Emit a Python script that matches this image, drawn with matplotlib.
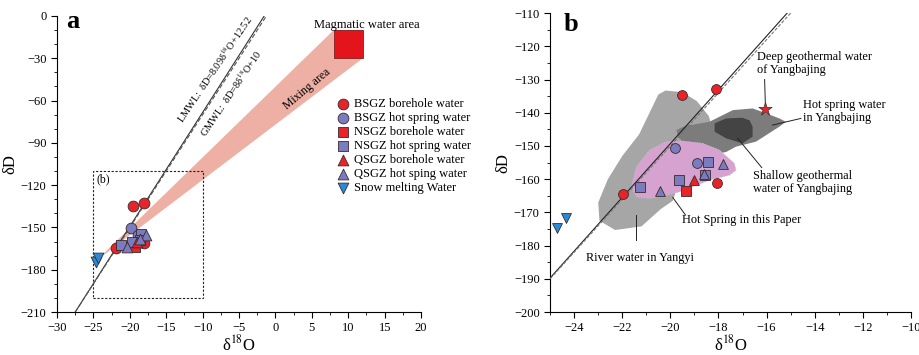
import matplotlib
matplotlib.use("Agg")
import matplotlib.pyplot as plt
from matplotlib.patches import Polygon, Rectangle
from matplotlib.ticker import MultipleLocator

plt.rcParams['font.family'] = ['Liberation Serif', 'DejaVu Serif']
plt.rcParams['mathtext.fontset'] = 'stix'

# sample values (delta18O, deltaD)
bsgz_bore_x = [-19.5, -18.1, -18.05, -21.95]
bsgz_bore_y = [-134.6, -132.8, -161.0, -164.6]
bsgz_hot_x = [-19.8, -18.9]
bsgz_hot_y = [-150.7, -155.2]
nsgz_bore_x = [-19.35]
nsgz_bore_y = [-163.6]
nsgz_hot_x = [-18.45, -18.55, -19.65, -21.25]
nsgz_hot_y = [-154.9, -158.8, -160.3, -162.3]
qsgz_bore_x = [-19.0]
qsgz_bore_y = [-160.2]
qsgz_hot_x = [-17.8, -18.6, -20.45]
qsgz_hot_y = [-155.4, -158.3, -163.6]
snow_x = [-24.7, -24.35]
snow_y = [-174.6, -171.6]
deep_ybj = (-16.05, -139.0)

# meteoric water lines
lmwl_slope, lmwl_icpt = 8.09, 12.52
gmwl_slope, gmwl_icpt = 8.0, 10.0

# magmatic water box and mixing band
magma_x = (8.0, 12.0)
magma_y = (-30.0, -10.0)
mix_apex = (-24.6, -173.5)

# field outlines in panel b
river_yangyi = [(-20.2, -133.3), (-19.5, -133.8), (-18.9, -136.5), (-18.4, -141), (-18.2, -146),
                (-18.5, -150), (-19.5, -158), (-19.9, -166.5), (-20.4, -169), (-21.2, -174.2),
                (-22.3, -175.3), (-22.95, -172.5), (-23.0, -167), (-22.6, -160), (-22.0, -153),
                (-21.3, -146.5), (-20.8, -139), (-20.5, -134.5)]
hot_ybj = [(-19.75, -145.2), (-19.4, -144.0), (-18.37, -142.7), (-17.4, -139.2), (-16.58, -138.7),
           (-16.0, -140.2), (-15.47, -141.7), (-15.2, -142.7), (-15.47, -144.2), (-16.44, -148.7),
           (-17.27, -150.2), (-17.68, -151.8), (-18.25, -152.7), (-19.2, -151.0), (-19.68, -147.2)]
shallow_ybj = [(-18.16, -143.2), (-17.68, -141.7), (-17.0, -141.5), (-16.7, -142.3), (-16.58, -144.2),
               (-16.58, -147.2), (-17.0, -149.2), (-17.68, -147.7), (-18.16, -145.7)]
hot_paper = [(-20.17, -148.7), (-19.48, -148.5), (-18.65, -149.2), (-17.96, -151.2), (-17.34, -155.2),
             (-17.27, -157.3), (-17.54, -158.8), (-18.37, -160.3), (-19.6, -163.8), (-20.17, -164.8),
             (-20.86, -165.8), (-21.41, -165.3), (-21.62, -162.3), (-21.41, -156.3), (-20.86, -151.2)]

RED = '#e8242a'
PUR = '#7b7bc0'
BLU = '#2a8ad8'
EDGE = '#3a2a2a'

groups = [
    (bsgz_bore_x, bsgz_bore_y, 'o', RED, 'BSGZ borehole water'),
    (bsgz_hot_x, bsgz_hot_y, 'o', PUR, 'BSGZ hot spring water'),
    (nsgz_bore_x, nsgz_bore_y, 's', RED, 'NSGZ borehole water'),
    (nsgz_hot_x, nsgz_hot_y, 's', PUR, 'NSGZ hot spring water'),
    (qsgz_bore_x, qsgz_bore_y, '^', RED, 'QSGZ borehole water'),
    (qsgz_hot_x, qsgz_hot_y, '^', PUR, 'QSGZ hot sping water'),
    (snow_x, snow_y, 'v', BLU, 'Snow melting Water'),
]


def style_axis(ax):
    ax.spines['top'].set_visible(False)
    ax.spines['right'].set_visible(False)
    ax.tick_params(which='both', direction='out', labelsize=9)
    ax.tick_params(which='major', length=4)
    ax.tick_params(which='minor', length=2.5)


fig = plt.figure(figsize=(9.2, 3.55), dpi=100)

# ---------- panel a ----------
ax = fig.add_axes([0.062, 0.121, 0.3957, 0.834])
ax.set_xlim(-30, 20)
ax.set_ylim(-210, 0)
style_axis(ax)
ax.xaxis.set_major_locator(MultipleLocator(5))
ax.xaxis.set_minor_locator(MultipleLocator(2.5))
ax.yaxis.set_major_locator(MultipleLocator(30))
ax.yaxis.set_minor_locator(MultipleLocator(10))

mix = Polygon([mix_apex, (magma_x[0], magma_y[1]), (magma_x[1], magma_y[1]), (magma_x[1], magma_y[0])],
              closed=True, facecolor='#eeb0a4', edgecolor='none', zorder=1)
ax.add_patch(mix)
ax.add_patch(Rectangle((magma_x[0], magma_y[0]), magma_x[1] - magma_x[0], magma_y[1] - magma_y[0],
                       facecolor='#e3141c', edgecolor='#802020', lw=0.6, zorder=2))

xs = [-30, 20]
ax.plot(xs, [lmwl_slope * v + lmwl_icpt for v in xs], color='#333333', lw=0.8, zorder=3)
ax.plot(xs, [gmwl_slope * v + gmwl_icpt for v in xs], color='#555555', lw=0.8, ls=(0, (4, 2)), zorder=3)

ax.add_patch(Rectangle((-25, -200), 15, 90, fill=False, ls=(0, (2, 1.5)), lw=0.8, edgecolor='#222222', zorder=2))
ax.text(-24.6, -116, '(b)', fontsize=8.5, va='center', ha='left')

for gx, gy, mk, col, lab in groups:
    ax.scatter(gx, gy, marker=mk, s=60, c=col, edgecolors=EDGE, linewidths=0.6, label=lab, zorder=5)

ax.text(-12.4, -77, 'LMWL:  δD=8.09δ$^{18}$O+12.52', fontsize=7.4, rotation=56,
        rotation_mode='anchor', ha='left', va='bottom')
ax.text(-10.8, -82, 'GMWL:  δD=8δ$^{18}$O+10', fontsize=7.4, rotation=56,
        rotation_mode='anchor', ha='left', va='top')
ax.text(4.3, -52, 'Mixing area', fontsize=8.5, rotation=40, ha='center', va='center')
ax.text(12.6, -6.5, 'Magmatic water area', fontsize=9, ha='center', va='center', clip_on=False)
ax.text(-28.8, -4, 'a', fontsize=19, fontweight='bold', ha='left', va='center')

ax.legend(loc='upper left', bbox_to_anchor=(0.755, 0.74), frameon=False, fontsize=9,
          handletextpad=0.35, labelspacing=0.16, borderaxespad=0, handlelength=1.0,
          markerscale=1.0)
ax.set_xlabel('δ$^{18}$O', fontsize=12, labelpad=0)
ax.set_ylabel('δD', fontsize=12, labelpad=2)

# ---------- panel b ----------
bx = fig.add_axes([0.598, 0.121, 0.392, 0.842])
bx.set_xlim(-25, -10)
bx.set_ylim(-200, -110)
style_axis(bx)
bx.xaxis.set_major_locator(MultipleLocator(2))
bx.xaxis.set_minor_locator(MultipleLocator(1))
bx.yaxis.set_major_locator(MultipleLocator(10))
bx.yaxis.set_minor_locator(MultipleLocator(5))

bx.add_patch(Polygon(river_yangyi, closed=True, facecolor='#a6a6a6', edgecolor='none', zorder=1))
bx.add_patch(Polygon(hot_ybj, closed=True, facecolor='#7c7c7c', edgecolor='none', zorder=2))
bx.add_patch(Polygon(shallow_ybj, closed=True, facecolor='#444444', edgecolor='none', zorder=3))
bx.add_patch(Polygon(hot_paper, closed=True, facecolor='#d6a2cf', edgecolor='#c8c8c8', lw=0.5,
                     ls=(0, (2, 2)), zorder=3))

xs = [-25, -10]
bx.plot(xs, [lmwl_slope * v + lmwl_icpt for v in xs], color='#222222', lw=0.8, zorder=4)
bx.plot(xs, [gmwl_slope * v + gmwl_icpt for v in xs], color='#777777', lw=0.8, ls=(0, (3, 1.5)), zorder=4)

for gx, gy, mk, col, lab in groups:
    bx.scatter(gx, gy, marker=mk, s=50, c=col, edgecolors=EDGE, linewidths=0.6, zorder=5)
bx.scatter([deep_ybj[0]], [deep_ybj[1]], marker='*', s=100, c=RED, edgecolors=EDGE, linewidths=0.5, zorder=5)

fs = 8.8
bx.text(-16.4, -125.2, 'Deep geothermal water\nof Yangbajing', fontsize=fs, ha='left', va='center', linespacing=1.1)
bx.plot([-16.08, -16.05], [-130.0, -137.3], color='#222222', lw=0.7)
bx.text(-14.5, -139.6, 'Hot spring water\nin Yangbajing', fontsize=fs, ha='left', va='center', linespacing=1.1)
bx.plot([-14.57, -15.75], [-141.7, -143.7], color='#222222', lw=0.7)
bx.text(-16.58, -160.9, 'Shallow geothermal\nwater of Yangbajing', fontsize=fs, ha='left', va='center', linespacing=1.1)
bx.plot([-17.2, -16.2], [-147.7, -156.5], color='#222222', lw=0.7, zorder=4)
bx.text(-19.5, -172.3, 'Hot Spring in this Paper', fontsize=fs, ha='left', va='center')
bx.plot([-19.9, -19.37], [-165.5, -170.8], color='#222222', lw=0.7, zorder=4)
bx.text(-23.5, -183.8, 'River water in Yangyi', fontsize=fs, ha='left', va='center')
bx.plot([-21.45, -21.45], [-170.8, -178.3], color='#222222', lw=0.7, zorder=4)
bx.text(-24.45, -113.5, 'b', fontsize=19, fontweight='bold', ha='left', va='center')

bx.set_xlabel('δ$^{18}$O', fontsize=12, labelpad=0)
bx.set_ylabel('δD', fontsize=12, labelpad=2)

fig.savefig('out.png', dpi=100)
